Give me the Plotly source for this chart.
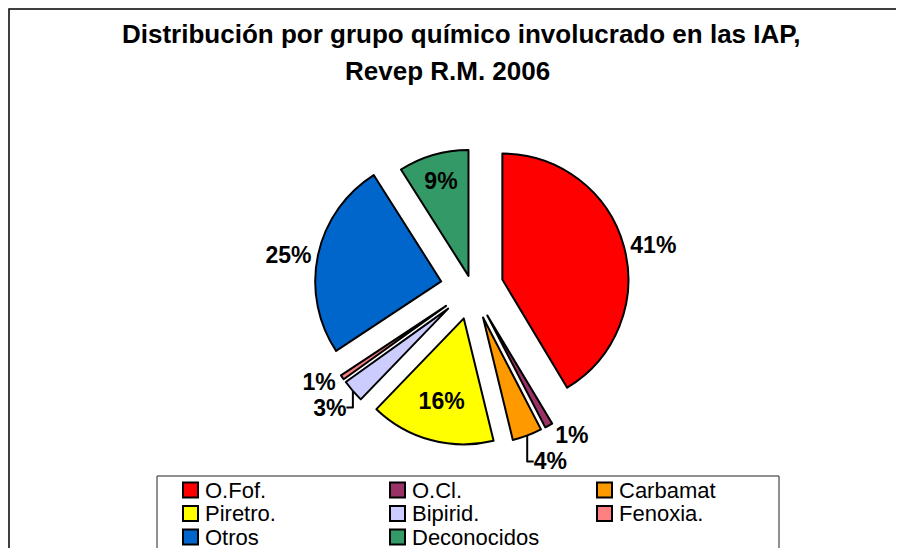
import plotly.graph_objects as go

# ---- data ----
categories = ["O.Fof.", "O.Cl.", "Carbamat", "Piretro.", "Bipirid.", "Fenoxia.", "Otros", "Deconocidos"]
values = [41.4, 1.0, 3.8, 16.0, 2.9, 0.6, 25.3, 9.0]
colors = ["#FF0000", "#993366", "#FF9900", "#FFFF00", "#CCCCFF", "#FF8080", "#0066CC", "#339966"]
pulls = [0.25, 0.25, 0.25, 0.25, 0.25, 0.25, 0.25, 0.10]
text_pos = ["outside", "outside", "outside", "inside", "outside", "outside", "outside", "inside"]

title_line1 = "Distribución por grupo químico involucrado en las IAP,"
title_line2 = "Revep R.M. 2006"

W, H = 904, 548
OFF = 8  # page body margin offset of the rendered figure
FONT = "Liberation Sans, Arial, sans-serif"

def px(x):
    return (x - OFF) / W

def py(y):
    return 1 - (y - OFF) / H

fig = go.Figure()
fig.add_trace(go.Pie(
    labels=categories,
    values=values,
    marker=dict(colors=colors, line=dict(color="black", width=2)),
    pull=pulls,
    sort=False,
    direction="clockwise",
    rotation=0,
    textposition=text_pos,
    texttemplate="%{percent:.0%}",
    insidetextorientation="horizontal",
    textfont=dict(family=FONT, size=23, color="black", weight="bold"),
    showlegend=False,
    hoverinfo="label+percent",
    domain=dict(x=[px(472 - 170), px(472 + 170)], y=[py(288 + 157.5), py(288 - 157.5)]),
))

shapes = []
annotations = []

# chart frame (extends beyond the visible window on right and bottom)
shapes.append(dict(type="rect", xref="paper", yref="paper",
                   x0=px(9), x1=px(W + 30), y0=py(H + 30), y1=py(9),
                   line=dict(color="black", width=1.5), fillcolor="rgba(0,0,0,0)"))
# legend frame
shapes.append(dict(type="rect", xref="paper", yref="paper",
                   x0=px(157), x1=px(779), y0=py(H + 30), y1=py(476),
                   line=dict(color="#222", width=1), fillcolor="white"))

# titles
annotations.append(dict(text="<b>" + title_line1 + "</b>", x=px(461), y=py(34), xref="paper", yref="paper",
                        showarrow=False, xanchor="center", yanchor="middle",
                        font=dict(family=FONT, size=26, color="black")))
annotations.append(dict(text="<b>" + title_line2 + "</b>", x=px(447), y=py(71), xref="paper", yref="paper",
                        showarrow=False, xanchor="center", yanchor="middle",
                        font=dict(family=FONT, size=26, color="black")))

# legend (manual grid, 3 columns)
col_x = [183, 390, 597]
row_y = [490, 513.5, 537]
sw = 15
for i, (cat, col) in enumerate(zip(categories, colors)):
    cx = col_x[i % 3]
    cy = row_y[i // 3]
    shapes.append(dict(type="rect", xref="paper", yref="paper",
                       x0=px(cx), x1=px(cx + sw), y0=py(cy + sw / 2), y1=py(cy - sw / 2),
                       line=dict(color="black", width=2), fillcolor=col))
    annotations.append(dict(text=cat, x=px(cx + sw + 5), y=py(cy), xref="paper", yref="paper",
                            showarrow=False, xanchor="left", yanchor="middle",
                            font=dict(family=FONT, size=22, color="black")))

fig.update_layout(
    width=W, height=H,
    margin=dict(l=0, r=0, t=0, b=0),
    paper_bgcolor="white",
    plot_bgcolor="white",
    shapes=shapes,
    annotations=annotations,
    showlegend=False,
)

fig.write_html("out.html")
